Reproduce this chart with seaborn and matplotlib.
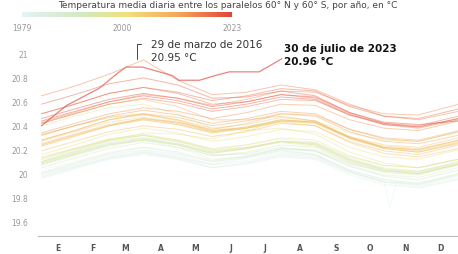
import matplotlib
matplotlib.use("Agg")
import numpy as np
import pandas as pd
import seaborn as sns
import matplotlib.pyplot as plt
from matplotlib.colors import LinearSegmentedColormap

# Daily mean SST between 60N and 60S, one line per year
DAYS = [1, 30, 60, 90, 120, 150, 180, 210, 240, 270, 300, 330, 365]
YEARS = list(range(1979, 2023))
TEMPS = [
    [20.00, 20.07, 20.15, 20.19, 20.15, 20.08, 20.11, 20.17, 20.15, 20.03, 19.95, 19.91, 19.99],  # 1979
    [20.03, 20.10, 20.18, 20.22, 20.17, 20.10, 20.13, 20.18, 20.15, 20.02, 19.94, 19.90, 19.98],  # 1980
    [19.98, 20.06, 20.14, 20.18, 20.14, 20.07, 20.10, 20.16, 20.14, 20.01, 19.93, 19.92, 20.00],  # 1981
    [19.99, 20.06, 20.13, 20.17, 20.13, 20.08, 20.13, 20.20, 20.19, 20.08, 20.02, 20.02, 20.10],  # 1982
    [20.12, 20.21, 20.29, 20.32, 20.26, 20.16, 20.16, 20.20, 20.16, 20.02, 19.93, 19.89, 19.96],  # 1983
    [19.97, 20.05, 20.13, 20.18, 20.13, 20.05, 20.08, 20.14, 20.12, 19.99, 19.91, 19.88, 19.95],  # 1984
    [19.96, 20.04, 20.12, 20.16, 20.12, 20.05, 20.09, 20.15, 20.13, 20.01, 19.93, 19.91, 19.99],  # 1985
    [20.00, 20.08, 20.16, 20.20, 20.16, 20.10, 20.14, 20.21, 20.20, 20.09, 20.02, 20.00, 20.08],  # 1986
    [20.09, 20.17, 20.26, 20.30, 20.27, 20.20, 20.24, 20.29, 20.26, 20.13, 20.05, 20.02, 20.08],  # 1987
    [20.10, 20.18, 20.25, 20.28, 20.22, 20.12, 20.14, 20.19, 20.16, 20.03, 19.95, 19.92, 20.00],  # 1988
    [20.01, 20.09, 20.17, 20.22, 20.18, 20.11, 20.15, 20.21, 20.19, 20.07, 19.99, 19.97, 20.05],  # 1989
    [20.07, 20.15, 20.23, 20.28, 20.24, 20.17, 20.21, 20.27, 20.25, 20.12, 20.04, 20.01, 20.09],  # 1990
    [20.09, 20.17, 20.25, 20.29, 20.25, 20.18, 20.21, 20.26, 20.23, 20.10, 20.02, 20.00, 20.08],  # 1991
    [20.10, 20.18, 20.27, 20.30, 20.24, 20.15, 20.17, 20.22, 20.19, 20.06, 19.98, 19.95, 20.03],  # 1992
    [20.05, 20.13, 20.21, 20.26, 20.22, 20.15, 20.18, 20.24, 20.22, 20.09, 20.01, 19.99, 20.07],  # 1993
    [20.08, 20.16, 20.24, 20.28, 20.24, 20.17, 20.21, 20.27, 20.26, 20.14, 20.07, 20.05, 20.12],  # 1994
    [20.13, 20.21, 20.29, 20.33, 20.28, 20.20, 20.22, 20.27, 20.24, 20.11, 20.03, 20.00, 20.08],  # 1995
    [20.08, 20.16, 20.24, 20.29, 20.25, 20.18, 20.21, 20.27, 20.25, 20.12, 20.04, 20.02, 20.10],  # 1996
    [20.10, 20.19, 20.28, 20.34, 20.33, 20.29, 20.36, 20.44, 20.44, 20.34, 20.28, 20.27, 20.35],  # 1997
    [20.40, 20.48, 20.55, 20.58, 20.50, 20.38, 20.36, 20.38, 20.33, 20.18, 20.09, 20.05, 20.12],  # 1998
    [20.14, 20.21, 20.28, 20.32, 20.27, 20.19, 20.22, 20.27, 20.24, 20.11, 20.03, 20.00, 20.08],  # 1999
    [20.12, 20.20, 20.28, 20.32, 20.28, 20.21, 20.24, 20.30, 20.28, 20.15, 20.07, 20.05, 20.12],  # 2000
    [20.16, 20.24, 20.33, 20.38, 20.34, 20.27, 20.31, 20.37, 20.35, 20.22, 20.14, 20.12, 20.20],  # 2001
    [20.24, 20.32, 20.40, 20.45, 20.41, 20.34, 20.38, 20.44, 20.42, 20.30, 20.23, 20.21, 20.28],  # 2002
    [20.32, 20.40, 20.47, 20.50, 20.44, 20.35, 20.38, 20.44, 20.42, 20.29, 20.21, 20.18, 20.26],  # 2003
    [20.27, 20.35, 20.43, 20.47, 20.43, 20.36, 20.39, 20.45, 20.43, 20.30, 20.22, 20.20, 20.27],  # 2004
    [20.28, 20.36, 20.45, 20.49, 20.45, 20.38, 20.41, 20.47, 20.44, 20.31, 20.22, 20.19, 20.26],  # 2005
    [20.24, 20.32, 20.40, 20.45, 20.41, 20.34, 20.38, 20.44, 20.43, 20.31, 20.24, 20.22, 20.30],  # 2006
    [20.33, 20.40, 20.47, 20.50, 20.45, 20.36, 20.38, 20.43, 20.40, 20.26, 20.17, 20.14, 20.21],  # 2007
    [20.19, 20.27, 20.35, 20.40, 20.37, 20.31, 20.35, 20.42, 20.40, 20.27, 20.19, 20.16, 20.24],  # 2008
    [20.23, 20.31, 20.40, 20.46, 20.43, 20.37, 20.42, 20.50, 20.49, 20.37, 20.30, 20.28, 20.36],  # 2009
    [20.42, 20.50, 20.58, 20.62, 20.56, 20.45, 20.45, 20.48, 20.44, 20.30, 20.21, 20.18, 20.25],  # 2010
    [20.25, 20.33, 20.41, 20.46, 20.42, 20.35, 20.39, 20.45, 20.43, 20.30, 20.22, 20.20, 20.28],  # 2011
    [20.28, 20.36, 20.45, 20.50, 20.47, 20.40, 20.44, 20.50, 20.48, 20.35, 20.27, 20.25, 20.32],  # 2012
    [20.32, 20.40, 20.48, 20.53, 20.49, 20.42, 20.46, 20.52, 20.50, 20.37, 20.29, 20.27, 20.35],  # 2013
    [20.34, 20.42, 20.50, 20.55, 20.52, 20.46, 20.51, 20.58, 20.57, 20.45, 20.38, 20.36, 20.44],  # 2014
    [20.43, 20.51, 20.60, 20.66, 20.63, 20.57, 20.62, 20.69, 20.68, 20.57, 20.50, 20.49, 20.58],  # 2015
    [20.65, 20.73, 20.83, 20.95, 20.78, 20.66, 20.68, 20.74, 20.70, 20.58, 20.48, 20.45, 20.52],  # 2016
    [20.50, 20.58, 20.67, 20.72, 20.67, 20.58, 20.60, 20.66, 20.63, 20.50, 20.41, 20.38, 20.45],  # 2017
    [20.42, 20.50, 20.58, 20.63, 20.59, 20.52, 20.56, 20.62, 20.61, 20.49, 20.42, 20.40, 20.48],  # 2018
    [20.50, 20.58, 20.67, 20.72, 20.68, 20.61, 20.65, 20.71, 20.69, 20.56, 20.48, 20.46, 20.54],  # 2019
    [20.58, 20.66, 20.75, 20.80, 20.74, 20.63, 20.64, 20.69, 20.65, 20.51, 20.42, 20.39, 20.46],  # 2020
    [20.44, 20.52, 20.60, 20.65, 20.61, 20.54, 20.58, 20.64, 20.62, 20.49, 20.41, 20.39, 20.46],  # 2021
    [20.46, 20.54, 20.62, 20.67, 20.63, 20.56, 20.60, 20.66, 20.64, 20.51, 20.43, 20.41, 20.44],  # 2022
]
# short data glitch in 1980 (the sharp dip in late October)
GLITCH_YEAR = 1980
GLITCH_DAYS = [299, 305, 311]
GLITCH_VALS = [19.94, 19.72, 19.93]

# 2023, up to 30 July
DAYS_2023 = [1, 23, 51, 69, 75, 89, 115, 121, 139, 153, 165, 191, 211]
TEMPS_2023 = [20.40, 20.57, 20.71, 20.85, 20.89, 20.89, 20.82, 20.78, 20.78, 20.82, 20.85, 20.85, 20.96]

MONTH_DAYS = [15, 46, 74, 105, 135, 166, 196, 227, 258, 288, 319, 349]
MONTH_LABELS = ["E", "F", "M", "A", "M", "J", "J", "A", "S", "O", "N", "D"]
Y_TICKS = [19.6, 19.8, 20, 20.2, 20.4, 20.6, 20.8, 21]
Y_LABELS = ["19.6", "19.8", "20", "20.2", "20.4", "20.6", "20.8", "21"]

TITLE = "Temperatura media diaria entre los paralelos 60° N y 60° S, por año, en °C"

# build long table
rows = []
for year, vals in zip(YEARS, TEMPS):
    for d, v in zip(DAYS, vals):
        rows.append((year, d, v))
for d, v in zip(GLITCH_DAYS, GLITCH_VALS):
    rows.append((GLITCH_YEAR, d, v))
df = pd.DataFrame(rows, columns=["year", "day", "temp"])
df23 = pd.DataFrame({"year": 2023, "day": DAYS_2023, "temp": TEMPS_2023})

sns.set_theme(style="white")
plt.rcParams['font.family'] = ['DejaVu Sans']

cmap = LinearSegmentedColormap.from_list(
    "years", [(0.0, "#e4f3f7"), (0.3, "#d2eabc"), (0.5, "#f2e07c"),
              (0.75, "#f4a65a"), (1.0, "#e2443a")])

fig = plt.figure(figsize=(4.58, 2.55), dpi=100)
ax = fig.add_axes([38 / 458, 18 / 255, 420 / 458, 196.5 / 255])

sns.lineplot(data=df, x="day", y="temp", hue="year", palette=cmap,
             hue_norm=(1979, 2023), legend=False, lw=0.7, alpha=0.45,
             estimator=None, ax=ax)
sns.lineplot(data=df23, x="day", y="temp", color="#e25a50", lw=0.9,
             alpha=0.75, estimator=None, ax=ax)

ax.set_xlim(-2, 364.6)
ax.set_ylim(19.48, 21.12)
ax.set_xlabel("")
ax.set_ylabel("")
ax.set_xticks(MONTH_DAYS)
ax.set_xticklabels(MONTH_LABELS, fontsize=5.5, color="#555555", fontweight="bold")
ax.set_yticks(Y_TICKS)
ax.set_yticklabels(Y_LABELS, fontsize=5.5, color="#999999")
ax.tick_params(axis="both", length=0)
ax.tick_params(axis="x", pad=5)
ax.tick_params(axis="y", pad=7)
for s in ["top", "right", "left"]:
    ax.spines[s].set_visible(False)
ax.spines["bottom"].set_color("#bbbbbb")
ax.spines["bottom"].set_linewidth(0.8)

# annotations
ax.plot([84, 84, 88], [20.96, 21.08, 21.08], color="#444444", lw=0.7, clip_on=False)
ax.text(97, 21.083, "29 de marzo de 2016", fontsize=7.5, color="#333333", va="center")
ax.text(97, 20.975, "20.95 °C", fontsize=7.5, color="#333333", va="center")
ax.text(213, 21.05, "30 de julio de 2023", fontsize=7.5, color="#111111",
        fontweight="bold", va="center")
ax.text(213, 20.94, "20.96 °C", fontsize=7.5, color="#111111",
        fontweight="bold", va="center")

# title at the very top edge
fig.text(0.497, 0.998, TITLE, ha="center", va="top", fontsize=6.5, color="#444444")

# colour bar for years
cax = fig.add_axes([22 / 458, 1 - 18 / 255, 210 / 458, 5 / 255])
grad = np.linspace(0, 1, 256).reshape(1, -1)
cax.imshow(grad, aspect="auto", cmap=cmap, extent=[1979, 2023, 0, 1])
cax.set_yticks([])
cax.set_xticks([1979, 2000, 2023])
cax.set_xticklabels(["1979", "2000", "2023"], fontsize=5.5, color="#999999")
cax.tick_params(axis="x", length=3, width=0.6, color="#777777", pad=3, direction="inout")
for s in cax.spines.values():
    s.set_visible(False)

fig.savefig("out.png", dpi=100)
